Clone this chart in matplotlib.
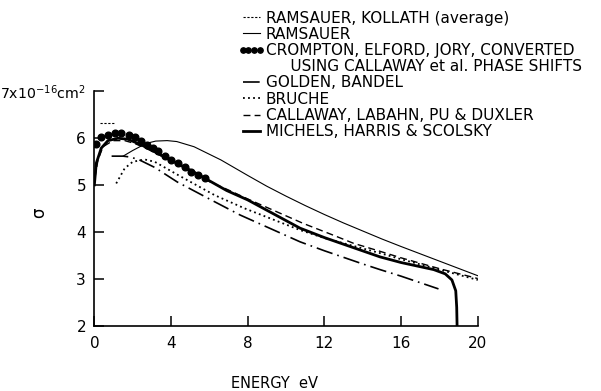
import matplotlib
matplotlib.use("Agg")
import matplotlib.pyplot as plt
from matplotlib.lines import Line2D

# energy (eV) / total cross section (1e-16 cm^2) for each data set
rk_e = [0.3, 1.1]
rk_s = [6.32, 6.32]

ram_e = [1.5, 2.0, 2.7, 3.2, 3.8, 4.3, 5.2, 6.6, 8.0, 9.0, 10.0, 11.0, 12.0, 13.0, 14.0, 15.0, 16.0, 18.0, 20.0]
ram_s = [5.61, 5.73, 5.88, 5.93, 5.94, 5.92, 5.81, 5.53, 5.20, 4.97, 4.76, 4.56, 4.37, 4.19, 4.02, 3.85, 3.69, 3.38, 3.07]

cej_e = [0.1, 0.36, 0.71, 1.06, 1.40, 1.79, 2.1, 2.41, 2.76, 3.06, 3.32, 3.67, 4.01, 4.36, 4.71, 5.06, 5.41, 5.76]
cej_s = [5.87, 6.01, 6.06, 6.10, 6.10, 6.06, 6.01, 5.94, 5.85, 5.78, 5.71, 5.62, 5.53, 5.46, 5.39, 5.28, 5.22, 5.14]

gb_e = [0.9, 1.5, 1.9, 2.4, 3.15, 4.33, 6.28, 7.6, 10.73, 12.0, 14.0, 14.9, 16.0, 17.95]
gb_s = [5.61, 5.61, 5.59, 5.52, 5.37, 5.06, 4.64, 4.36, 3.79, 3.60, 3.32, 3.20, 3.06, 2.79]

br_e = [1.14, 1.58, 2.0, 2.62, 3.15, 4.36, 6.28, 7.84, 10.73, 12.0, 14.9, 16.0, 18.0, 20.0]
br_s = [5.03, 5.35, 5.49, 5.54, 5.49, 5.21, 4.78, 4.50, 4.04, 3.87, 3.55, 3.42, 3.20, 2.98]

cal_e = [0.03, 0.19, 0.45, 0.97, 1.58, 2.1, 3.0, 4.0, 6.1, 7.0, 8.0, 10.9, 12.47, 13.51, 14.73, 16.0, 18.0, 20.0]
cal_s = [5.15, 5.53, 5.81, 5.94, 5.94, 5.88, 5.72, 5.50, 5.05, 4.89, 4.70, 4.18, 3.93, 3.76, 3.61, 3.45, 3.22, 3.01]

mhs_e = [0.0, 0.1, 0.36, 0.71, 1.23, 1.75, 2.45, 3.4, 5.2, 6.9, 8.0, 10.73, 12.0, 14.9, 16.0, 17.7, 18.3, 18.65, 18.85, 18.9, 18.92]
mhs_s = [5.0, 5.46, 5.78, 5.94, 5.99, 5.97, 5.85, 5.65, 5.27, 4.88, 4.68, 4.08, 3.88, 3.47, 3.35, 3.20, 3.11, 2.98, 2.75, 2.40, 2.0]

xticks = [0, 4, 8, 12, 16, 20]
yticks = [2, 3, 4, 5, 6, 7]
ylabels = ['2', '3', '4', '5', '6', '7x10$^{-16}$cm$^2$']

plt.rcParams['font.family'] = ['DejaVu Sans']
plt.rcParams['mathtext.default'] = 'regular'

fig = plt.figure(figsize=(6.01, 3.91), dpi=100)
ax = fig.add_axes([0.157, 0.166, 0.638, 0.602])

l_rk, = ax.plot(rk_e, rk_s, color='k', lw=0.8, ls=(0, (2, 1.5)))
l_ram, = ax.plot(ram_e, ram_s, color='k', lw=0.8)
l_cej, = ax.plot(cej_e, cej_s, color='k', ls='none', marker='o', ms=4.8)
l_gb, = ax.plot(gb_e, gb_s, color='k', lw=1.2, ls=(0, (10, 3, 1, 3)))
l_br, = ax.plot(br_e, br_s, color='k', lw=1.3, ls=(0, (1, 1.8)))
l_cal, = ax.plot(cal_e, cal_s, color='k', lw=1.0, ls=(0, (5, 3)))
l_mhs, = ax.plot(mhs_e, mhs_s, color='k', lw=2.0)

ax.set_xlim(0, 20)
ax.set_ylim(2, 7)
ax.set_xticks(xticks)
ax.set_yticks(yticks)
for s in ['top', 'right']:
    ax.spines[s].set_visible(False)
for s in ['left', 'bottom']:
    ax.spines[s].set_linewidth(1.2)
ax.tick_params(axis='both', direction='in', length=7, width=1.1, labelsize=11)
ax.tick_params(axis='x', pad=7)
ax.tick_params(axis='y', pad=6)
ax.set_yticklabels(ylabels)
# the unit label on the top tick is squeezed a little so it fits
ax.get_yticklabels()[-1].set_fontsize(10.2)
ax.set_xlabel('ENERGY  eV', fontsize=10.5)
ax.xaxis.set_label_coords(0.47, -0.21)
ax.set_ylabel('σ', fontsize=12)
ax.yaxis.set_label_coords(-0.12, 0.48)

blank = Line2D([], [], ls='none')
handles = [l_rk, l_ram, l_cej, blank, l_gb, l_br, l_cal, l_mhs]
labels = ['RAMSAUER, KOLLATH (average)',
          'RAMSAUER',
          'CROMPTON, ELFORD, JORY, CONVERTED',
          '     USING CALLAWAY et al. PHASE SHIFTS',
          'GOLDEN, BANDEL',
          'BRUCHE',
          'CALLAWAY, LABAHN, PU & DUXLER',
          'MICHELS, HARRIS & SCOLSKY']
fig.legend(handles, labels, loc='upper left', bbox_to_anchor=(0.396, 0.973),
           frameon=False, borderpad=0, borderaxespad=0, handlelength=1.76,
           handletextpad=0.05, labelspacing=0.08, numpoints=4, markerscale=0.8,
           fontsize=11)

fig.savefig('out.png', dpi=100)
